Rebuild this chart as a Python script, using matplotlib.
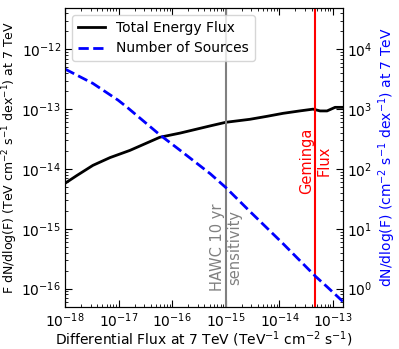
import numpy as np
import matplotlib
matplotlib.use("Agg")
import matplotlib.pyplot as plt
import matplotlib.transforms as mtransforms

# Total energy flux (black), log10 values
energy_logx = [-18.0, -17.78, -17.48, -17.16, -16.79, -16.23, -15.85, -15.29, -15.0,
               -14.55, -14.23, -13.93, -13.62, -13.37, -13.24, -13.11, -12.96, -12.81]
energy_logy = [-14.24, -14.11, -13.94, -13.81, -13.69, -13.47, -13.40, -13.28, -13.22,
               -13.17, -13.12, -13.07, -13.03, -13.00, -13.03, -13.03, -12.97, -12.97]

# Number of sources (blue dashed), log10 values on right axis
sources_logx = [-18.0, -17.48, -17.01, -16.84, -16.23, -15.85, -15.29, -15.0,
                -14.55, -13.93, -13.32, -13.11, -12.81]
sources_logy = [3.67, 3.43, 3.15, 3.03, 2.57, 2.31, 1.92, 1.69,
                1.29, 0.75, 0.20, 0.03, -0.22]

hawc_flux = 1e-15
geminga_flux = 4.7e-14

ex = 10 ** np.array(energy_logx)
ey = 10 ** np.array(energy_logy)
sx = 10 ** np.array(sources_logx)
sy = 10 ** np.array(sources_logy)

fig = plt.figure(figsize=(3.99, 3.49), dpi=100)
ax = fig.add_axes([0.163, 0.12, 0.697, 0.857])
ax2 = ax.twinx()

l1, = ax.plot(ex, ey, color="black", lw=2, label="Total Energy Flux")
l2, = ax2.plot(sx, sy, color="blue", lw=2, ls="--", label="Number of Sources")
ax.axvline(hawc_flux, color="gray", lw=1.5)
ax.axvline(geminga_flux, color="red", lw=1.5)

ax.set_xscale("log")
ax.set_yscale("log")
ax2.set_yscale("log")
ax.set_xlim(1e-18, 1.55e-13)
ax.set_ylim(4.9e-17, 4.9e-12)
ax2.set_ylim(0.49, 4.9e4)

trans = mtransforms.blended_transform_factory(ax.transData, ax.transAxes)
ax.text(hawc_flux, 0.2, "HAWC 10 yr\nsensitivity", rotation=90, color="gray",
        ha="center", va="center", fontsize=10.5, transform=trans, multialignment="center")
ax.text(geminga_flux, 0.49, "Geminga\nFlux", rotation=90, color="red",
        ha="center", va="center", fontsize=10.5, transform=trans, multialignment="center")

ax.set_xlabel("Differential Flux at 7 TeV (TeV$^{-1}$ cm$^{-2}$ s$^{-1}$)", fontsize=10,
              labelpad=0)
ax.set_ylabel("F dN/dlog(F) (TeV cm$^{-2}$ s$^{-1}$ dex$^{-1}$) at 7 TeV", fontsize=9,
              labelpad=1)
ax2.set_ylabel("dN/dlog(F) (cm$^{-2}$ s$^{-1}$ dex$^{-1}$) at 7 TeV", fontsize=10,
               color="blue", labelpad=3)

ax.tick_params(which="both", direction="in", top=True, labelsize=10)
ax2.tick_params(which="both", direction="in", labelsize=10)
ax.tick_params(axis="x", which="major", length=5, pad=3)
ax.tick_params(axis="y", which="major", length=5, pad=3)
ax2.tick_params(which="major", length=5, pad=3)

ax2.legend(handles=[l1, l2], loc="upper left", fontsize=10)

fig.savefig("out.png", dpi=100)
